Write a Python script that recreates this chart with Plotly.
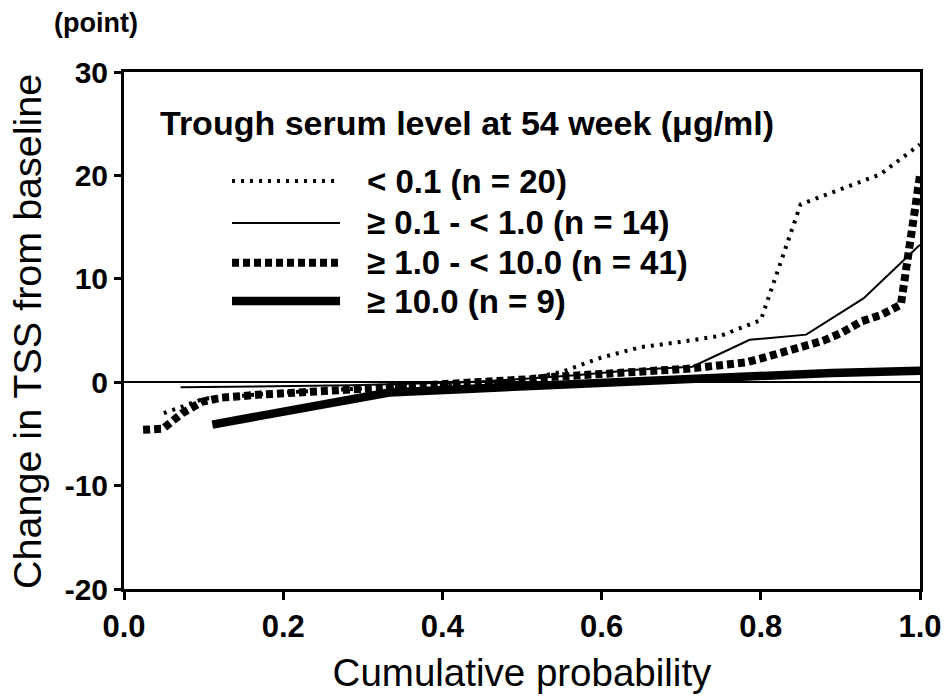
import plotly.graph_objects as go

# ---- data ----
series_names = ["< 0.1 (n = 20)", "≥ 0.1 - < 1.0 (n = 14)", "≥ 1.0 - < 10.0 (n = 41)", "≥ 10.0 (n = 9)"]

x_lt01 = [0.05, 0.10, 0.15, 0.20, 0.25, 0.30, 0.35, 0.40, 0.45, 0.50,
          0.55, 0.60, 0.65, 0.70, 0.75, 0.80, 0.85, 0.90, 0.95, 1.00]
y_lt01 = [-3.0, -1.6, -1.3, -1.0, -0.8, -0.6, -0.4, -0.2, -0.1, 0.2,
          1.0, 2.4, 3.4, 3.9, 4.5, 6.0, 17.2, 18.7, 20.1, 23.0]

x_01_1 = [0.071, 0.143, 0.214, 0.286, 0.357, 0.429, 0.500, 0.571, 0.643, 0.714, 0.786, 0.857, 0.929, 1.000]
y_01_1 = [-0.5, -0.45, -0.4, -0.3, -0.15, 0.0, 0.3, 0.7, 1.2, 1.5, 4.1, 4.6, 8.1, 13.3]

x_1_10 = [0.024, 0.049, 0.073, 0.098, 0.122, 0.146, 0.171, 0.195, 0.220, 0.244,
          0.268, 0.293, 0.317, 0.341, 0.366, 0.390, 0.415, 0.439, 0.463, 0.488,
          0.512, 0.537, 0.561, 0.585, 0.610, 0.634, 0.659, 0.683, 0.707, 0.732,
          0.756, 0.780, 0.805, 0.829, 0.854, 0.878, 0.902, 0.927, 0.951, 0.976, 1.000]
y_1_10 = [-4.6, -4.5, -3.0, -1.9, -1.5, -1.3, -1.2, -1.1, -1.0, -0.9,
          -0.8, -0.7, -0.6, -0.5, -0.4, -0.3, -0.2, -0.1, 0.0, 0.1,
          0.3, 0.5, 0.6, 0.7, 0.8, 0.9, 1.0, 1.2, 1.3, 1.5,
          1.7, 1.9, 2.4, 2.9, 3.3, 4.0, 4.8, 5.9, 6.5, 7.5, 20.0]

x_ge10 = [0.111, 0.222, 0.333, 0.444, 0.556, 0.667, 0.778, 0.889, 1.000]
y_ge10 = [-4.1, -2.6, -1.0, -0.6, -0.2, 0.2, 0.6, 0.9, 1.1]

x_ticks = [0.0, 0.2, 0.4, 0.6, 0.8, 1.0]
x_ticklabels = ["0.0", "0.2", "0.4", "0.6", "0.8", "1.0"]
y_ticks = [-20, -10, 0, 10, 20, 30]
y_ticklabels = ["-20", "-10", "0", "10", "20", "30"]

legend_title = "Trough serum level at 54 week (μg/ml)"
x_title = "Cumulative probability"
y_title = "Change in TSS from baseline"
unit_label = "(point)"

# line styles per series
styles = [
    dict(color="black", width=4, dash="3px,6px"),
    dict(color="black", width=2, dash="solid"),
    dict(color="black", width=8, dash="7px,4px"),
    dict(color="black", width=8.5, dash="solid"),
]

FONT = "Liberation Sans, Arial, sans-serif"

fig = go.Figure()
for name, xs, ys, st in zip(series_names,
                            [x_lt01, x_01_1, x_1_10, x_ge10],
                            [y_lt01, y_01_1, y_1_10, y_ge10],
                            styles):
    fig.add_trace(go.Scatter(x=xs, y=ys, mode="lines", name=name,
                             line=st, showlegend=False))

# ---- custom legend (samples + labels) in paper coordinates ----
row_y = [0.789, 0.708, 0.631, 0.557]
shapes = []
annotations = []
for name, st, ry in zip(series_names, styles, row_y):
    shapes.append(dict(type="line", xref="paper", yref="paper",
                       x0=0.1357, x1=0.2714, y0=ry, y1=ry,
                       line=dict(color="black", width=st["width"], dash=st["dash"])))
    annotations.append(dict(xref="paper", yref="paper", x=0.3028, y=ry,
                            xanchor="left", yanchor="middle", showarrow=False,
                            text=name,
                            font=dict(family=FONT, size=33, color="black", weight="bold")))
annotations.append(dict(xref="paper", yref="paper", x=0.0427, y=0.901,
                        xanchor="left", yanchor="middle", showarrow=False,
                        text=legend_title,
                        font=dict(family=FONT, size=34, color="black", weight="bold")))
annotations.append(dict(xref="paper", yref="paper", x=-0.0905, y=1.095,
                        xanchor="left", yanchor="middle", showarrow=False,
                        text=unit_label,
                        font=dict(family=FONT, size=27, color="black", weight="bold")))
# y-axis title (placed as rotated text for exact position)
annotations.append(dict(xref="paper", yref="paper", x=-0.1219, y=0.499,
                        xanchor="center", yanchor="middle", showarrow=False,
                        textangle=-90, text=y_title,
                        font=dict(family=FONT, size=39.5, color="black")))

fig.update_layout(
    width=945, height=699,
    margin=dict(l=124, r=25, t=72, b=110),
    paper_bgcolor="white", plot_bgcolor="white",
    font=dict(family=FONT, color="black"),
    shapes=shapes, annotations=annotations,
)
fig.update_xaxes(
    range=[0, 1], tickvals=x_ticks, ticktext=x_ticklabels, automargin=False,
    showgrid=False, zeroline=False,
    showline=True, linecolor="black", linewidth=3, mirror=True,
    ticks="outside", ticklen=8, tickwidth=3, tickcolor="black",
    tickfont=dict(family=FONT, size=31, color="black", weight="bold"),
    title=dict(text=x_title, font=dict(family=FONT, size=38.5, color="black"), standoff=16),
)
fig.update_yaxes(
    range=[-20, 30], tickvals=y_ticks, ticktext=y_ticklabels, automargin=False,
    showgrid=False, zeroline=True, zerolinecolor="black", zerolinewidth=1.5,
    showline=True, linecolor="black", linewidth=3, mirror=True,
    ticks="outside", ticklen=7, tickwidth=3, tickcolor="black",
    tickfont=dict(family=FONT, size=30, color="black", weight="bold"),
)

fig.write_html("out.html")
